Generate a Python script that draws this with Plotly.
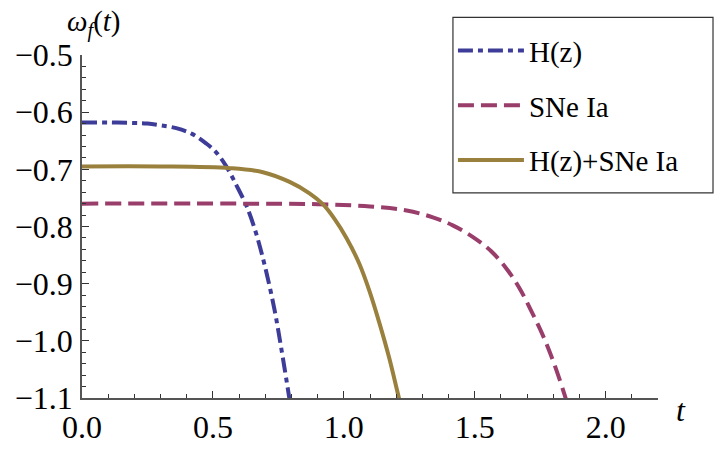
import plotly.graph_objects as go

# Data
t_h = [0, 0.1, 0.2, 0.25, 0.3, 0.36, 0.42, 0.475, 0.51, 0.55, 0.59, 0.63, 0.665, 0.70, 0.735, 0.76, 0.79, 0.80]
w_h = [-0.618, -0.618, -0.619, -0.620, -0.623, -0.628, -0.638, -0.655, -0.669, -0.694, -0.728, -0.766, -0.812, -0.872, -0.945, -1.010, -1.095, -1.125]

t_s = [0, 0.6, 0.9, 1.1, 1.24, 1.34, 1.416, 1.492, 1.562, 1.62, 1.671, 1.712, 1.75, 1.78, 1.811, 1.843, 1.86]
w_s = [-0.760, -0.760, -0.761, -0.765, -0.772, -0.784, -0.798, -0.818, -0.843, -0.873, -0.908, -0.944, -0.980, -1.012, -1.050, -1.094, -1.12]

t_c = [0, 0.3, 0.565, 0.691, 0.793, 0.869, 0.92, 0.965, 1.010, 1.060, 1.098, 1.136, 1.174, 1.210, 1.225]
w_c = [-0.695, -0.695, -0.698, -0.705, -0.722, -0.742, -0.761, -0.787, -0.820, -0.866, -0.913, -0.969, -1.031, -1.099, -1.125]

names = ["H(z)", "SNe Ia", "H(z)+SNe Ia"]
colors = ["#3d3d99", "#993d6b", "#99803d"]
dashes = ["15px,5px,5px,5px", "16px,7px", "solid"]

FONT = "Liberation Serif"

fig = go.Figure()
for i, (tx, wy) in enumerate([(t_h, w_h), (t_s, w_s), (t_c, w_c)]):
    fig.add_trace(go.Scatter(
        x=tx, y=wy, mode="lines", name=names[i], legendgroup=names[i],
        line=dict(color=colors[i], width=4, dash=dashes[i], shape="spline",
                  smoothing=1.0, simplify=False),
    ))

axis_common = dict(
    showline=True, linecolor="#555555", linewidth=1.5, mirror=False,
    ticks="inside", tickcolor="#333333", ticklen=7, tickwidth=1,
    showgrid=False, zeroline=False, tickformat=".1f",
    tickfont=dict(family=FONT, size=32, color="black"),
)

fig.update_layout(
    width=714, height=457,
    margin=dict(l=82, r=56, t=55, b=46),
    paper_bgcolor="white", plot_bgcolor="white",
    xaxis=dict(range=[0, 2.2], dtick=0.5, tick0=0,
               minor=dict(dtick=0.1, ticks="inside", ticklen=4, tickcolor="#333333"),
               **axis_common),
    yaxis=dict(range=[-1.1, -0.5], dtick=0.1, tick0=-0.5,
               minor=dict(dtick=0.02, ticks="inside", ticklen=4, tickcolor="#333333"),
               ticklabelstandoff=1,
               **axis_common),
    legend=dict(x=0.644, y=1.087, xanchor="left", yanchor="top",
                bgcolor="rgba(0,0,0,0)", borderwidth=0,
                font=dict(family=FONT, size=29, color="black"),
                tracegroupgap=14, itemwidth=66),
    showlegend=True,
)

# legend frame
fig.add_shape(type="rect", xref="paper", yref="paper",
              x0=0.644, x1=1.0955, y0=0.598, y1=1.1096,
              line=dict(color="#333333", width=1.2), fillcolor="white", layer="below")

fig.add_annotation(xref="paper", yref="paper", x=0.02, y=1.093, xanchor="center", yanchor="middle",
                   text="<i>ω</i><sub><i>f</i></sub>(<i>t</i>)", showarrow=False,
                   font=dict(family=FONT, size=29, color="black"))
fig.add_annotation(xref="paper", yref="paper", x=1.028, y=-0.035, xanchor="left", yanchor="middle",
                   text="<i>t</i>", showarrow=False,
                   font=dict(family=FONT, size=32, color="black"))

fig.write_html("out.html")
